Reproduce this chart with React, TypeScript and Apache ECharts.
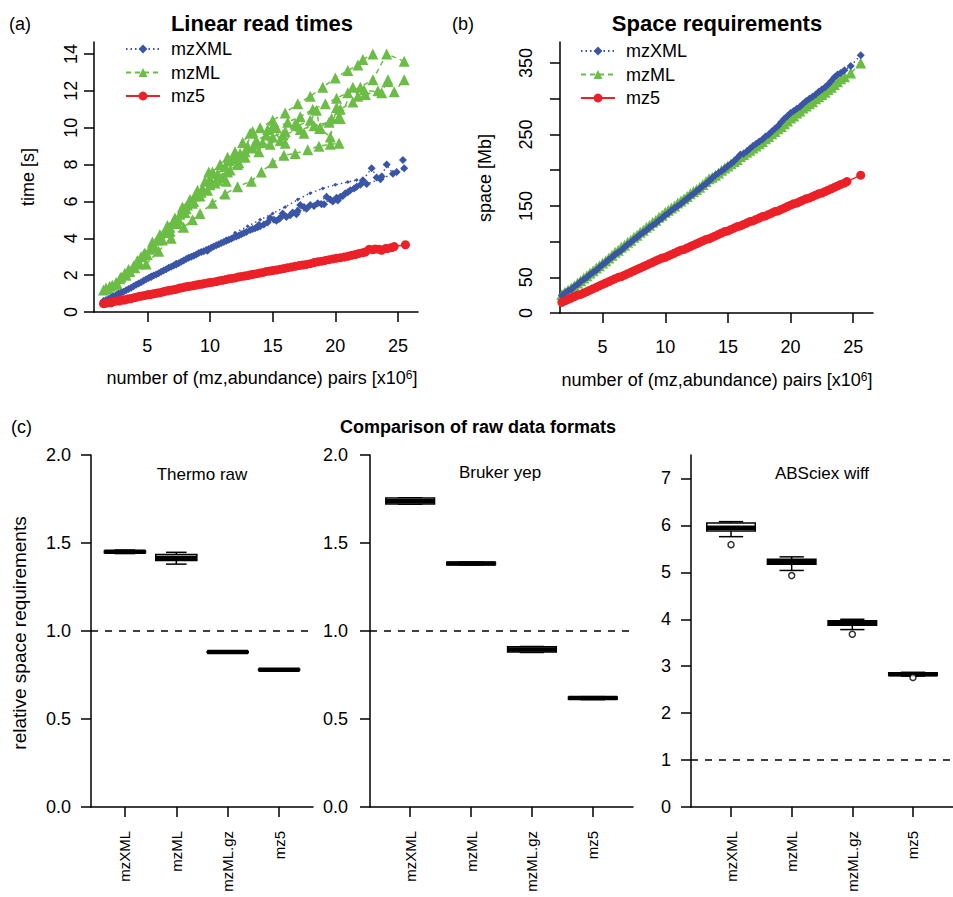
import React, { useEffect, useRef } from 'react';
import * as echarts from 'echarts';

const FONT = "'Liberation Sans', Arial, Helvetica, sans-serif";
const BLUE = '#3b55a6';
const GREEN = '#6bbd45';
const RED = '#ec2027';

// ---------- Panel (a): Linear read times [x = pairs x10^6, y = seconds] ----------
const aMz5: number[][] = [[1.5,0.45],[1.8,0.5],[2.1,0.5],[2.5,0.6],[2.8,0.6],[3.2,0.65],[3.6,0.72],[4.0,0.78],[4.4,0.85],[4.8,0.9],[5.2,0.95],[5.6,1.0],[6.0,1.05],[6.4,1.12],[6.8,1.18],[7.2,1.22],[7.6,1.3],[8.0,1.35],[8.4,1.4],[8.8,1.45],[9.2,1.5],[9.6,1.55],[10.0,1.6],[10.5,1.65],[11.0,1.72],[11.5,1.8],[12.0,1.85],[12.5,1.93],[13.0,1.98],[13.5,2.05],[14.0,2.12],[14.5,2.2],[15.0,2.25],[15.6,2.32],[16.2,2.4],[16.8,2.48],[17.4,2.55],[18.0,2.62],[18.6,2.72],[19.2,2.8],[19.8,2.88],[20.4,2.95],[21.0,3.02],[21.6,3.12],[22.2,3.22],[22.7,3.4],[23.2,3.42],[23.7,3.35],[24.2,3.45],[24.7,3.55],[25.6,3.65]];
const aMz5b: number[][] = [[1.65,0.47],[1.95,0.52],[2.3,0.57],[2.65,0.6],[3.0,0.66],[3.4,0.7],[3.8,0.75],[4.2,0.82],[4.6,0.87],[5.0,0.93],[5.4,0.97],[5.8,1.03],[6.2,1.08],[6.6,1.15],[7.0,1.2],[7.4,1.26],[7.8,1.32],[8.2,1.38],[8.6,1.42],[9.0,1.48],[9.4,1.52],[9.8,1.58],[10.25,1.62],[10.75,1.7],[11.25,1.76],[11.75,1.82],[12.25,1.9],[12.75,1.95],[13.25,2.02],[13.75,2.08],[14.25,2.15],[14.75,2.22],[15.3,2.28],[15.9,2.36],[16.5,2.44],[17.1,2.52],[17.7,2.58],[18.3,2.68],[18.9,2.76],[19.5,2.84],[20.1,2.92],[20.7,2.98],[21.3,3.08],[21.9,3.18],[22.4,3.25],[23.0,3.38],[23.5,3.4],[24.0,3.44],[24.5,3.5]];
const aMzXML: number[][] = [[1.5,0.6],[1.9,0.7],[2.3,0.85],[2.7,1.0],[3.1,1.1],[3.5,1.25],[3.9,1.4],[4.3,1.55],[4.7,1.7],[5.1,1.85],[5.5,1.98],[5.9,2.1],[6.3,2.25],[6.7,2.4],[7.1,2.52],[7.5,2.65],[7.9,2.8],[8.3,2.95],[8.7,3.05],[9.1,3.2],[9.5,3.3],[9.9,3.42],[10.3,3.55],[10.7,3.68],[11.1,3.8],[11.5,3.92],[11.9,4.05],[12.3,4.15],[12.7,4.28],[13.2,4.45],[13.6,4.55],[14.0,4.65],[14.8,5.1],[15.3,4.95],[15.8,5.35],[16.4,5.25],[17.2,5.8],[17.7,5.6],[18.6,5.9],[19.3,6.25],[19.8,6.0],[20.4,6.25],[20.8,6.45],[21.7,6.8],[22.2,7.15],[22.9,7.8],[23.3,7.3],[23.7,7.35],[24.1,8.0],[24.6,7.5],[25.5,7.8],[25.4,8.25]];
const aMzXMLb: number[][] = [[1.7,0.65],[2.1,0.78],[2.5,0.92],[2.9,1.05],[3.3,1.18],[3.7,1.32],[4.1,1.48],[4.5,1.62],[4.9,1.78],[5.3,1.92],[5.7,2.04],[6.1,2.18],[6.5,2.32],[6.9,2.46],[7.3,2.58],[7.7,2.72],[8.1,2.88],[8.5,3.0],[8.9,3.12],[9.3,3.25],[9.7,3.36],[10.1,3.48],[10.5,3.62],[10.9,3.74],[11.3,3.86],[11.7,3.98],[12.1,4.1],[12.5,4.22],[12.9,4.34],[13.4,4.5],[13.8,4.6],[14.3,4.75],[14.6,4.85],[15.1,5.0],[15.6,5.1],[16.1,5.15],[16.6,5.4],[17.0,5.5],[17.5,5.7],[18.0,5.8],[18.9,5.85],[19.6,6.1],[20.2,6.05],[20.6,6.3],[21.0,6.5],[21.5,6.7],[22.0,6.9]];
const aMzXMLUpper: number[][] = [[12.0,4.3],[13.0,4.65],[14.0,5.0],[15.0,5.35],[16.0,5.7],[17.0,6.1],[18.0,6.45],[19.0,6.7],[20.0,6.9],[21.0,7.05],[21.7,7.16]];
const aMzXMLExtra: number[][] = [[5.3,1.9],[7.3,2.62],[9.8,3.32],[11.3,3.88],[13.9,4.72],[15.5,5.05],[16.9,5.3],[18.3,5.75],[19.1,5.85],[20.1,6.2],[21.2,6.6],[22.5,6.95],[23.6,7.2],[24.9,7.6]];
const aMzMLStrands: number[][][] = [
  [[1.5,1.2],[2.2,1.45],[2.9,1.9],[3.5,2.3],[4.2,2.8],[4.8,3.2],[5.4,3.8],[6.0,4.2],[6.6,4.7],[7.2,5.1],[7.8,5.7],[8.4,6.1],[9.0,6.6],[9.6,7.1],[10.2,7.6],[10.8,8.0],[11.4,8.4],[12.0,8.7],[12.6,9.2],[13.2,9.7],[14.0,10.0],[15.0,10.4],[16.0,10.8],[17.0,11.3],[18.0,11.7],[19.0,12.2],[20.0,12.7],[21.0,13.1],[21.8,13.4],[22.2,13.7],[23.0,14.0]],
  [[1.7,1.3],[2.5,1.6],[3.2,2.1],[3.9,2.5],[4.5,3.0],[5.2,3.4],[5.8,3.9],[6.4,4.3],[7.0,4.8],[7.6,5.3],[8.2,5.8],[8.8,6.3],[9.4,6.7],[10.0,7.2],[10.6,7.5],[11.2,7.9],[11.8,8.3],[12.4,8.6],[13.0,9.0],[13.7,9.3],[14.5,9.6],[15.3,10.0],[16.2,10.3],[17.2,10.6],[18.2,11.0],[19.2,11.3],[20.1,11.6],[21.0,11.9],[22.0,12.2],[23.0,12.6],[24.1,14.0],[25.5,13.6]],
  [[2.0,1.4],[2.8,1.8],[3.6,2.2],[4.4,2.6],[5.0,3.1],[5.6,3.5],[6.2,3.9],[6.8,4.4],[7.4,4.8],[8.0,5.4],[8.6,5.9],[9.2,6.3],[9.8,6.6],[10.4,7.0],[11.0,7.3],[11.6,7.7],[12.2,8.0],[12.8,8.4],[13.4,8.9],[14.2,9.2],[15.0,9.5],[16.0,9.8],[17.0,10.1],[18.0,10.4],[18.8,10.0],[19.7,10.5],[20.4,11.0],[21.4,11.4],[22.4,11.8],[23.4,12.0],[24.2,12.5],[24.7,11.95],[25.5,12.6]],
  [[4.9,2.6],[5.9,3.3],[6.9,4.0],[7.9,4.6],[8.6,5.0],[9.2,5.35],[10.2,5.9],[11.2,6.4],[12.2,6.8],[13.3,7.1],[14.1,7.6],[15.0,8.1],[15.9,8.5],[16.8,8.6],[17.8,8.8],[18.7,9.0],[19.6,9.1],[20.3,9.15]],
  [[9.9,7.6],[10.6,7.15],[11.3,7.1],[11.5,8.2],[12.3,8.1],[13.4,9.8],[13.9,8.7],[14.6,9.9],[15.0,10.05],[15.6,9.3],[16.0,9.15],[16.8,10.2],[17.5,9.7],[18.5,10.95],[18.75,9.96],[19.6,9.5],[20.1,11.1],[20.4,10.5],[21.4,12.2],[21.8,11.7],[22.3,12.05],[23.7,11.9],[24.2,12.6]],
  [[1.9,1.25],[2.6,1.5],[3.3,2.0],[4.0,2.4],[4.7,3.1],[5.5,3.6],[6.1,4.0],[6.8,4.6],[7.5,5.0],[8.1,5.6],[8.7,6.0],[9.3,6.5],[10.0,6.9],[10.7,7.4],[11.4,7.6],[12.1,8.3],[12.8,8.7],[13.6,9.1],[14.8,9.1],[15.8,9.6],[17.2,9.9],[18.3,10.1],[19.5,10.3],[20.3,10.6]],
];
const aXTicks = [5, 10, 15, 20, 25];
const aYTicks = [0, 2, 4, 6, 8, 10, 12, 14];

// ---------- Panel (b): Space requirements [x = pairs x10^6, y = Mb] ----------
const bMzXML: number[][] = [[1.5,22],[2.0,28],[2.5,33],[3.0,40],[3.5,47],[4.0,54],[4.5,60],[5.0,68],[5.5,75],[6.0,82],[6.5,88],[7.0,96],[7.5,103],[8.0,110],[8.5,116],[9.0,123],[9.5,130],[10.0,137],[10.5,144],[11.0,150],[11.5,157],[12.0,164],[12.5,171],[13.0,178],[13.5,185],[14.0,193],[14.5,199],[15.0,206],[15.5,213],[16.0,222],[16.5,226],[17.0,234],[17.5,240],[18.0,247],[18.5,254],[19.0,262],[19.5,272],[20.0,280],[20.5,286],[21.0,293],[21.5,300],[22.0,306],[22.5,313],[23.0,320],[23.5,330],[24.0,336],[24.8,346],[25.6,361]];
const bMzXMLb: number[][] = [[1.75,25],[2.25,31],[2.75,37],[3.25,44],[3.75,50],[4.25,57],[4.75,64],[5.25,71],[5.75,78],[6.25,85],[6.75,92],[7.25,99],[7.75,106],[8.25,113],[8.75,120],[9.25,126],[9.75,133],[10.25,140],[10.75,147],[11.25,153],[11.75,160],[12.25,167],[12.75,174],[13.25,181],[13.75,189],[14.25,196],[14.75,202],[15.25,209],[15.75,217],[16.25,223],[16.75,230],[17.25,237],[17.75,243],[18.25,250],[18.75,258],[19.25,267],[19.75,276],[20.25,283],[20.75,289],[21.25,297],[21.75,303],[22.25,310],[22.75,316],[23.25,325],[23.75,334],[24.3,340]];
const bMzML: number[][] = [[1.5,23],[2.0,29],[2.5,35],[3.0,42],[3.5,49],[4.0,56],[4.5,63],[5.0,70],[5.5,77],[6.0,85],[6.5,92],[7.0,99],[7.5,106],[8.0,113],[8.5,120],[9.0,127],[9.5,134],[10.0,141],[10.5,147],[11.0,154],[11.5,160],[12.0,167],[12.5,173],[13.0,180],[13.5,188],[14.0,193],[14.5,200],[15.0,206],[15.5,212],[16.0,219],[16.5,225],[17.0,231],[17.5,237],[18.0,244],[18.5,251],[19.0,258],[19.5,265],[20.0,273],[20.5,280],[21.0,287],[21.5,293],[22.0,300],[22.5,306],[23.0,313],[23.5,320],[24.0,328],[24.8,336],[25.6,350]];
const bMzMLb: number[][] = [[1.75,26],[2.25,32],[2.75,38],[3.25,45],[3.75,52],[4.25,59],[4.75,66],[5.25,73],[5.75,81],[6.25,88],[6.75,95],[7.25,102],[7.75,109],[8.25,116],[8.75,123],[9.25,130],[9.75,137],[10.25,144],[10.75,150],[11.25,157],[11.75,163],[12.25,170],[12.75,176],[13.25,184],[13.75,190],[14.25,196],[14.75,203],[15.25,209],[15.75,215],[16.25,222],[16.75,228],[17.25,234],[17.75,240],[18.25,247],[18.75,254],[19.25,261],[19.75,269],[20.25,276],[20.75,283],[21.25,290],[21.75,296],[22.25,303],[22.75,309],[23.25,316],[23.75,324],[24.3,331]];
const bMz5: number[][] = [[1.5,13],[2.0,17],[2.5,21],[3.0,25],[3.5,28],[4.0,32],[4.5,36],[5.0,40],[5.5,44],[6.0,48],[6.5,51],[7.0,55],[7.5,59],[8.0,63],[8.5,67],[9.0,71],[9.5,75],[10.0,78],[10.5,82],[11.0,86],[11.5,89],[12.0,93],[12.5,97],[13.0,101],[13.5,104],[14.0,108],[14.5,112],[15.0,115],[15.5,119],[16.0,122],[16.5,126],[17.0,129],[17.5,133],[18.0,136],[18.5,140],[19.0,143],[19.5,147],[20.0,151],[20.5,154],[21.0,158],[21.5,161],[22.0,165],[22.5,168],[23.0,172],[23.5,176],[24.0,180],[24.5,184],[25.6,193]];
const bMz5b: number[][] = [[1.75,15],[2.25,19],[2.75,23],[3.25,26],[3.75,30],[4.25,34],[4.75,38],[5.25,42],[5.75,46],[6.25,50],[6.75,53],[7.25,57],[7.75,61],[8.25,65],[8.75,69],[9.25,73],[9.75,77],[10.25,80],[10.75,84],[11.25,88],[11.75,91],[12.25,95],[12.75,99],[13.25,103],[13.75,106],[14.25,110],[14.75,114],[15.25,117],[15.75,121],[16.25,124],[16.75,128],[17.25,131],[17.75,135],[18.25,138],[18.75,142],[19.25,145],[19.75,149],[20.25,153],[20.75,156],[21.25,160],[21.75,163],[22.25,167],[22.75,170],[23.25,174],[23.75,178],[24.3,182]];
const bXTicks = [5, 10, 15, 20, 25];
const bYTicks = [0, 50, 100, 150, 200, 250, 300, 350];
const bYLabels = [0, 50, 150, 250, 350];

// ---------- Panel (c): Comparison of raw data formats ----------
const formats = ['mzXML', 'mzML', 'mzML.gz', 'mz5'];
// [min, Q1, median, Q3, max]
const thermoStats = [[1.44,1.445,1.45,1.455,1.46],[1.38,1.40,1.415,1.435,1.447],[0.875,0.878,0.88,0.882,0.885],[0.775,0.778,0.78,0.782,0.785]];
const brukerStats = [[1.72,1.722,1.737,1.755,1.757],[1.375,1.377,1.383,1.39,1.392],[0.878,0.88,0.895,0.91,0.912],[0.61,0.612,0.62,0.625,0.627]];
const absciexStats = [[5.76,5.88,5.95,6.05,6.08],[5.04,5.17,5.22,5.28,5.33],[3.78,3.87,3.92,3.97,4.0],[2.79,2.80,2.83,2.86,2.87]];
const absciexOutliers = [[1,5.59],[2,4.93],[3,3.68],[4,2.76]];
const cTicks12 = [0, 0.5, 1, 1.5, 2];
const cTicks3 = [0, 1, 2, 3, 4, 5, 6, 7];
const referenceLevel = 1;

const axisLineStyle = { color: '#000', width: 1.5 };

function valueAxis(o: any) {
  return {
    type: 'value',
    gridIndex: o.grid,
    min: o.min,
    max: o.max,
    axisLine: { show: true, onZero: false, lineStyle: axisLineStyle },
    axisTick: { show: true, length: 10, lineStyle: axisLineStyle, customValues: o.ticks },
    axisLabel: {
      show: true,
      customValues: o.labels || o.ticks,
      color: '#000',
      fontSize: o.fontSize || 18,
      fontFamily: FONT,
      margin: o.margin,
      rotate: o.rotate || 0,
      formatter: o.formatter,
    },
    splitLine: { show: false },
    minorTick: { show: false },
  };
}

function boxRender(params: any, api: any) {
  const x = api.value(0);
  const lo = api.value(1), q1 = api.value(2), med = api.value(3), q3 = api.value(4), hi = api.value(5);
  const w = api.size([0.8, 0])[0];
  const cx = api.coord([x, med])[0];
  const y = (v: number) => api.coord([x, v])[1];
  const half = w / 2, sHalf = w / 4;
  const ls = { stroke: '#000', lineWidth: 1.5 };
  return {
    type: 'group',
    children: [
      { type: 'line', shape: { x1: cx, y1: y(hi), x2: cx, y2: y(q3) }, style: ls },
      { type: 'line', shape: { x1: cx, y1: y(q1), x2: cx, y2: y(lo) }, style: ls },
      { type: 'line', shape: { x1: cx - sHalf, y1: y(hi), x2: cx + sHalf, y2: y(hi) }, style: ls },
      { type: 'line', shape: { x1: cx - sHalf, y1: y(lo), x2: cx + sHalf, y2: y(lo) }, style: ls },
      { type: 'rect', shape: { x: cx - half, y: y(q3), width: w, height: Math.max(y(q1) - y(q3), 0.5) }, style: { fill: '#fff', stroke: '#000', lineWidth: 1.5 } },
      { type: 'line', shape: { x1: cx - half, y1: y(med), x2: cx + half, y2: y(med) }, style: { stroke: '#000', lineWidth: 4.5 } },
    ],
  };
}

function boxSeries(idx: number, stats: number[][]) {
  return {
    type: 'custom',
    xAxisIndex: idx,
    yAxisIndex: idx,
    renderItem: boxRender,
    data: stats.map((s, i) => [i + 1, ...s]),
    encode: { x: 0, y: [1, 2, 3, 4, 5] },
    markLine: {
      silent: true,
      symbol: ['none', 'none'],
      label: { show: false },
      lineStyle: { color: '#000', width: 1.5, type: [7, 7] },
      data: [{ yAxis: referenceLevel }],
    },
  };
}

function lineSeries(name: string, grid: number, data: number[][], kind: 'xml' | 'ml' | 'mz5', extra: any = {}) {
  const cfg = {
    xml: { symbol: 'diamond', size: 8, color: BLUE, type: [1.5, 3] as any, z: 3 },
    ml: { symbol: 'triangle', size: 11, color: GREEN, type: [5, 4] as any, z: 2 },
    mz5: { symbol: 'circle', size: 9, color: RED, type: 'solid' as any, z: 4 },
  }[kind];
  return {
    type: 'line',
    name,
    xAxisIndex: grid,
    yAxisIndex: grid,
    data,
    symbol: cfg.symbol,
    symbolSize: extra.symbolSize || cfg.size,
    showSymbol: true,
    itemStyle: { color: cfg.color },
    lineStyle: { color: cfg.color, width: 1.5, type: cfg.type },
    z: cfg.z,
    emphasis: { disabled: true },
  };
}

function txt(text: string, x: number, y: number, o: any = {}) {
  return {
    type: 'text',
    x,
    y,
    rotation: o.rotation || 0,
    style: {
      text,
      fontSize: o.fontSize || 18,
      fontFamily: FONT,
      fontWeight: o.bold ? 'bold' : 'normal',
      fill: '#000',
      align: o.align || 'center',
      verticalAlign: 'middle',
      rich: o.rich,
    },
  };
}

const supRich = {
  s: { fontSize: 12, fontFamily: FONT, verticalAlign: 'top', lineHeight: 12, fill: '#000' },
};

function buildOption() {
  const series: any[] = [];
  aMzMLStrands.forEach((s) => series.push(lineSeries('mzML', 0, s, 'ml')));
  series.push(lineSeries('mzXML', 0, aMzXML, 'xml'));
  series.push(lineSeries('mzXML', 0, aMzXMLb, 'xml'));
  series.push(lineSeries('mzXML', 0, aMzXMLUpper, 'xml', { symbolSize: 4 }));
  series.push(lineSeries('mzXML', 0, aMzXMLExtra, 'xml'));
  series.push(lineSeries('mz5', 0, aMz5, 'mz5'));
  series.push(lineSeries('mz5', 0, aMz5b, 'mz5'));
  series.push(lineSeries('mzML', 1, bMzML, 'ml'));
  series.push(lineSeries('mzML', 1, bMzMLb, 'ml'));
  series.push(lineSeries('mzXML', 1, bMzXML, 'xml'));
  series.push(lineSeries('mzXML', 1, bMzXMLb, 'xml'));
  series.push(lineSeries('mz5', 1, bMz5, 'mz5'));
  series.push(lineSeries('mz5', 1, bMz5b, 'mz5'));
  series.push(boxSeries(2, thermoStats));
  series.push(boxSeries(3, brukerStats));
  series.push(boxSeries(4, absciexStats));
  series.push({
    type: 'scatter',
    xAxisIndex: 4,
    yAxisIndex: 4,
    data: absciexOutliers,
    symbol: 'circle',
    symbolSize: 6,
    itemStyle: { color: '#fff', borderColor: '#000', borderWidth: 1.5 },
    z: 5,
  });

  const fmtCat = (v: number) => formats[Math.round(v) - 1] || '';
  const legendCommon = {
    data: ['mzXML', 'mzML', 'mz5'],
    orient: 'vertical',
    itemWidth: 34,
    itemHeight: 11,
    itemGap: 5.5,
    selectedMode: false,
    textStyle: { fontSize: 18, fontFamily: FONT, color: '#000', padding: [0, 0, 0, 6] },
  };

  return {
    animation: false,
    backgroundColor: '#fff',
    textStyle: { fontFamily: FONT },
    legend: [
      { ...legendCommon, left: 120, top: 35 },
      { ...legendCommon, left: 575, top: 37 },
    ],
    grid: [
      { left: 94, top: 42, width: 324, height: 270 },
      { left: 560, top: 42, width: 313, height: 271 },
      { left: 91, top: 455, width: 222, height: 352 },
      { left: 370, top: 455, width: 263, height: 352 },
      { left: 691, top: 455, width: 262, height: 352 },
    ],
    xAxis: [
      valueAxis({ grid: 0, min: 0.74, max: 26.6, ticks: aXTicks, margin: 25 }),
      valueAxis({ grid: 1, min: 1.6, max: 26.58, ticks: bXTicks, margin: 25 }),
      valueAxis({ grid: 2, min: 0.34, max: 4.66, ticks: [1, 2, 3, 4], margin: 24, rotate: 90, fontSize: 15, formatter: fmtCat }),
      valueAxis({ grid: 3, min: 0.34, max: 4.66, ticks: [1, 2, 3, 4], margin: 24, rotate: 90, fontSize: 15, formatter: fmtCat }),
      valueAxis({ grid: 4, min: 0.34, max: 4.66, ticks: [1, 2, 3, 4], margin: 24, rotate: 90, fontSize: 15, formatter: fmtCat }),
    ],
    yAxis: [
      valueAxis({ grid: 0, min: 0, max: 14.65, ticks: aYTicks, margin: 14, rotate: 90 }),
      valueAxis({ grid: 1, min: 0, max: 379.5, ticks: bYTicks, labels: bYLabels, margin: 25, rotate: 90 }),
      valueAxis({ grid: 2, min: 0, max: 2, ticks: cTicks12, margin: 20, formatter: (v: number) => v.toFixed(1) }),
      valueAxis({ grid: 3, min: 0, max: 2, ticks: cTicks12, margin: 22, formatter: (v: number) => v.toFixed(1) }),
      valueAxis({ grid: 4, min: 0, max: 7.5, ticks: cTicks3, margin: 20 }),
    ],
    graphic: [
      txt('(a)', 9, 24, { align: 'left' }),
      txt('Linear read times', 262, 23, { bold: true, fontSize: 22 }),
      txt('(b)', 452, 24, { align: 'left' }),
      txt('Space requirements', 717, 23, { bold: true, fontSize: 22 }),
      txt('time [s]', 28, 177, { rotation: Math.PI / 2 }),
      txt('space [Mb]', 485, 178, { rotation: Math.PI / 2 }),
      txt('number of (mz,abundance) pairs [x10{s|6}]', 262, 378, { rich: supRich }),
      txt('number of (mz,abundance) pairs [x10{s|6}]', 717, 380, { rich: supRich }),
      txt('(c)', 11, 427, { align: 'left' }),
      txt('Comparison of raw data formats', 478, 427, { bold: true, fontSize: 18 }),
      txt('relative space requirements', 19, 633, { rotation: Math.PI / 2, fontSize: 19 }),
      txt('Thermo raw', 202, 474, { fontSize: 17 }),
      txt('Bruker yep', 500, 472, { fontSize: 17 }),
      txt('ABSciex wiff', 822, 473, { fontSize: 17 }),
    ],
    series,
  };
}

export default function App() {
  const ref = useRef<HTMLDivElement>(null);
  useEffect(() => {
    document.body.style.margin = '0';
    const chart = echarts.init(ref.current!, null, { renderer: 'svg' });
    chart.setOption(buildOption() as any);
    return () => chart.dispose();
  }, []);
  return <div ref={ref} style={{ width: 953, height: 897 }} />;
}
